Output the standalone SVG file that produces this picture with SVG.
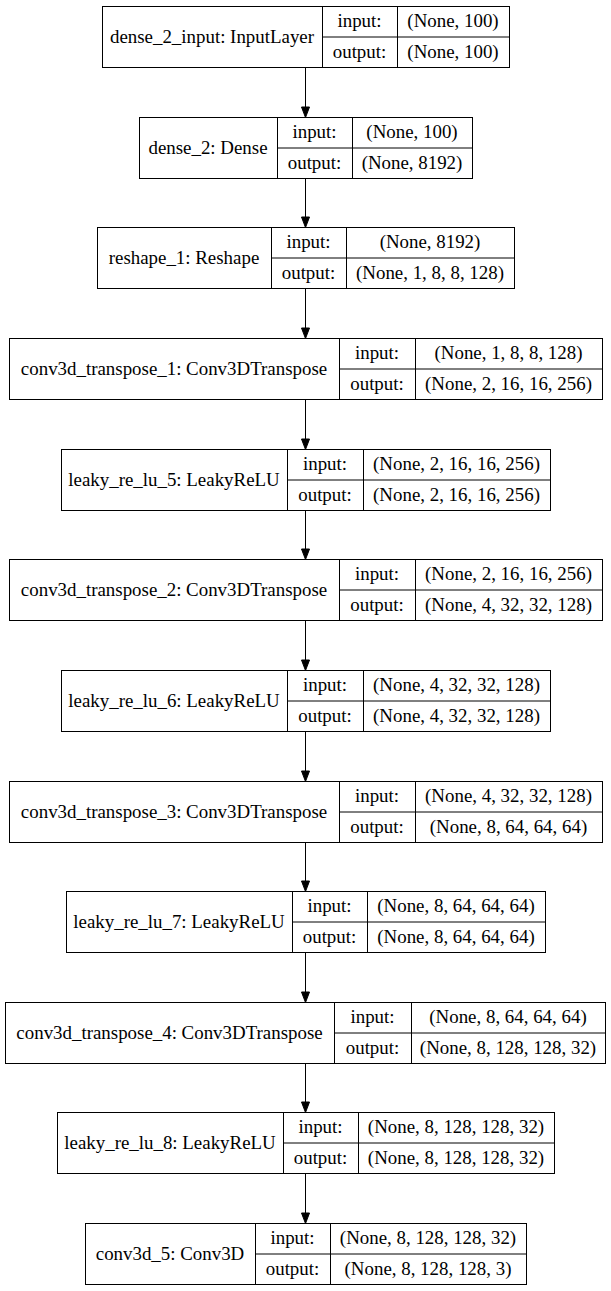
<svg xmlns="http://www.w3.org/2000/svg" width="611" height="1291" viewBox="0 0 611 1291">
<style>
rect.n{fill:#fff;stroke:#000;stroke-width:1}
line.s{stroke:#000;stroke-width:1}
text{font-family:"Liberation Serif","Times New Roman",serif;font-size:18.9px;fill:#000;text-anchor:middle}
.e line{stroke:#000;stroke-width:1}
.e polygon{fill:#000;stroke:#000;stroke-width:1}
</style>
<rect width="611" height="1291" fill="#fff"/>
<g class="e" id="connectors">
<line x1="305.5" y1="67.5" x2="305.5" y2="107"/><polygon points="305.5,117.5 301.5,107 309.5,107"/>
<line x1="305.5" y1="178.5" x2="305.5" y2="217"/><polygon points="305.5,227.5 301.5,217 309.5,217"/>
<line x1="305.5" y1="288.5" x2="305.5" y2="328"/><polygon points="305.5,338.5 301.5,328 309.5,328"/>
<line x1="305.5" y1="399.5" x2="305.5" y2="439"/><polygon points="305.5,449.5 301.5,439 309.5,439"/>
<line x1="305.5" y1="510.5" x2="305.5" y2="549"/><polygon points="305.5,559.5 301.5,549 309.5,549"/>
<line x1="305.5" y1="620.5" x2="305.5" y2="660"/><polygon points="305.5,670.5 301.5,660 309.5,660"/>
<line x1="305.5" y1="731.5" x2="305.5" y2="771"/><polygon points="305.5,781.5 301.5,771 309.5,771"/>
<line x1="305.5" y1="842.5" x2="305.5" y2="881"/><polygon points="305.5,891.5 301.5,881 309.5,881"/>
<line x1="305.5" y1="952.5" x2="305.5" y2="992"/><polygon points="305.5,1002.5 301.5,992 309.5,992"/>
<line x1="305.5" y1="1063.5" x2="305.5" y2="1102"/><polygon points="305.5,1112.5 301.5,1102 309.5,1102"/>
<line x1="305.5" y1="1173.5" x2="305.5" y2="1213"/><polygon points="305.5,1223.5 301.5,1213 309.5,1213"/>
</g>
<g id="dense_2_input">
<rect class="n" x="102.5" y="6.5" width="407" height="61"/>
<line class="s" x1="322.5" y1="6.5" x2="322.5" y2="67.5"/><line class="s" x1="397.5" y1="6.5" x2="397.5" y2="67.5"/><line class="s" x1="322.5" y1="37" x2="509.5" y2="37"/>
<text x="212" y="42.5">dense_2_input: InputLayer</text>
<text x="359.5" y="27.3">input:</text><text x="359.5" y="57.8">output:</text>
<text x="453" y="27.3">(None, 100)</text><text x="453" y="57.8">(None, 100)</text>
</g>
<g id="dense_2">
<rect class="n" x="139.5" y="117.5" width="333" height="61"/>
<line class="s" x1="277.5" y1="117.5" x2="277.5" y2="178.5"/><line class="s" x1="352.5" y1="117.5" x2="352.5" y2="178.5"/><line class="s" x1="277.5" y1="148" x2="472.5" y2="148"/>
<text x="208" y="153.5">dense_2: Dense</text>
<text x="314.5" y="138.3">input:</text><text x="314.5" y="168.8">output:</text>
<text x="412" y="138.3">(None, 100)</text><text x="412" y="168.8">(None, 8192)</text>
</g>
<g id="reshape_1">
<rect class="n" x="97.5" y="227.5" width="417" height="61"/>
<line class="s" x1="271.5" y1="227.5" x2="271.5" y2="288.5"/><line class="s" x1="346.5" y1="227.5" x2="346.5" y2="288.5"/><line class="s" x1="271.5" y1="258" x2="514.5" y2="258"/>
<text x="184" y="263.5">reshape_1: Reshape</text>
<text x="308.5" y="248.3">input:</text><text x="308.5" y="278.8">output:</text>
<text x="430" y="248.3">(None, 8192)</text><text x="430" y="278.8">(None, 1, 8, 8, 128)</text>
</g>
<g id="conv3d_transpose_1">
<rect class="n" x="9.5" y="338.5" width="593" height="61"/>
<line class="s" x1="339.5" y1="338.5" x2="339.5" y2="399.5"/><line class="s" x1="415.5" y1="338.5" x2="415.5" y2="399.5"/><line class="s" x1="339.5" y1="369" x2="602.5" y2="369"/>
<text x="174" y="374.5">conv3d_transpose_1: Conv3DTranspose</text>
<text x="377" y="359.3">input:</text><text x="377" y="389.8">output:</text>
<text x="508.5" y="359.3">(None, 1, 8, 8, 128)</text><text x="508.5" y="389.8">(None, 2, 16, 16, 256)</text>
</g>
<g id="leaky_re_lu_5">
<rect class="n" x="61.5" y="449.5" width="489" height="61"/>
<line class="s" x1="287.5" y1="449.5" x2="287.5" y2="510.5"/><line class="s" x1="363.5" y1="449.5" x2="363.5" y2="510.5"/><line class="s" x1="287.5" y1="480" x2="550.5" y2="480"/>
<text x="174" y="485.5">leaky_re_lu_5: LeakyReLU</text>
<text x="325" y="470.3">input:</text><text x="325" y="500.8">output:</text>
<text x="456.5" y="470.3">(None, 2, 16, 16, 256)</text><text x="456.5" y="500.8">(None, 2, 16, 16, 256)</text>
</g>
<g id="conv3d_transpose_2">
<rect class="n" x="9.5" y="559.5" width="593" height="61"/>
<line class="s" x1="339.5" y1="559.5" x2="339.5" y2="620.5"/><line class="s" x1="415.5" y1="559.5" x2="415.5" y2="620.5"/><line class="s" x1="339.5" y1="590" x2="602.5" y2="590"/>
<text x="174" y="595.5">conv3d_transpose_2: Conv3DTranspose</text>
<text x="377" y="580.3">input:</text><text x="377" y="610.8">output:</text>
<text x="508.5" y="580.3">(None, 2, 16, 16, 256)</text><text x="508.5" y="610.8">(None, 4, 32, 32, 128)</text>
</g>
<g id="leaky_re_lu_6">
<rect class="n" x="61.5" y="670.5" width="489" height="61"/>
<line class="s" x1="287.5" y1="670.5" x2="287.5" y2="731.5"/><line class="s" x1="363.5" y1="670.5" x2="363.5" y2="731.5"/><line class="s" x1="287.5" y1="701" x2="550.5" y2="701"/>
<text x="174" y="706.5">leaky_re_lu_6: LeakyReLU</text>
<text x="325" y="691.3">input:</text><text x="325" y="721.8">output:</text>
<text x="456.5" y="691.3">(None, 4, 32, 32, 128)</text><text x="456.5" y="721.8">(None, 4, 32, 32, 128)</text>
</g>
<g id="conv3d_transpose_3">
<rect class="n" x="9.5" y="781.5" width="593" height="61"/>
<line class="s" x1="339.5" y1="781.5" x2="339.5" y2="842.5"/><line class="s" x1="415.5" y1="781.5" x2="415.5" y2="842.5"/><line class="s" x1="339.5" y1="812" x2="602.5" y2="812"/>
<text x="174" y="817.5">conv3d_transpose_3: Conv3DTranspose</text>
<text x="377" y="802.3">input:</text><text x="377" y="832.8">output:</text>
<text x="508.5" y="802.3">(None, 4, 32, 32, 128)</text><text x="508.5" y="832.8">(None, 8, 64, 64, 64)</text>
</g>
<g id="leaky_re_lu_7">
<rect class="n" x="66.5" y="891.5" width="479" height="61"/>
<line class="s" x1="292.5" y1="891.5" x2="292.5" y2="952.5"/><line class="s" x1="367.5" y1="891.5" x2="367.5" y2="952.5"/><line class="s" x1="292.5" y1="922" x2="545.5" y2="922"/>
<text x="179" y="927.5">leaky_re_lu_7: LeakyReLU</text>
<text x="329.5" y="912.3">input:</text><text x="329.5" y="942.8">output:</text>
<text x="456" y="912.3">(None, 8, 64, 64, 64)</text><text x="456" y="942.8">(None, 8, 64, 64, 64)</text>
</g>
<g id="conv3d_transpose_4">
<rect class="n" x="5.5" y="1002.5" width="600" height="61"/>
<line class="s" x1="334.5" y1="1002.5" x2="334.5" y2="1063.5"/><line class="s" x1="411.5" y1="1002.5" x2="411.5" y2="1063.5"/><line class="s" x1="334.5" y1="1033" x2="605.5" y2="1033"/>
<text x="169.5" y="1038.5">conv3d_transpose_4: Conv3DTranspose</text>
<text x="372.5" y="1023.3">input:</text><text x="372.5" y="1053.8">output:</text>
<text x="508" y="1023.3">(None, 8, 64, 64, 64)</text><text x="508" y="1053.8">(None, 8, 128, 128, 32)</text>
</g>
<g id="leaky_re_lu_8">
<rect class="n" x="57.5" y="1112.5" width="497" height="61"/>
<line class="s" x1="283.5" y1="1112.5" x2="283.5" y2="1173.5"/><line class="s" x1="358.5" y1="1112.5" x2="358.5" y2="1173.5"/><line class="s" x1="283.5" y1="1143" x2="554.5" y2="1143"/>
<text x="170" y="1148.5">leaky_re_lu_8: LeakyReLU</text>
<text x="320.5" y="1133.3">input:</text><text x="320.5" y="1163.8">output:</text>
<text x="456" y="1133.3">(None, 8, 128, 128, 32)</text><text x="456" y="1163.8">(None, 8, 128, 128, 32)</text>
</g>
<g id="conv3d_5">
<rect class="n" x="85.5" y="1223.5" width="441" height="61"/>
<line class="s" x1="255.5" y1="1223.5" x2="255.5" y2="1284.5"/><line class="s" x1="330.5" y1="1223.5" x2="330.5" y2="1284.5"/><line class="s" x1="255.5" y1="1254" x2="526.5" y2="1254"/>
<text x="170" y="1259.5">conv3d_5: Conv3D</text>
<text x="292.5" y="1244.3">input:</text><text x="292.5" y="1274.8">output:</text>
<text x="428" y="1244.3">(None, 8, 128, 128, 32)</text><text x="428" y="1274.8">(None, 8, 128, 128, 3)</text>
</g>
</svg>
